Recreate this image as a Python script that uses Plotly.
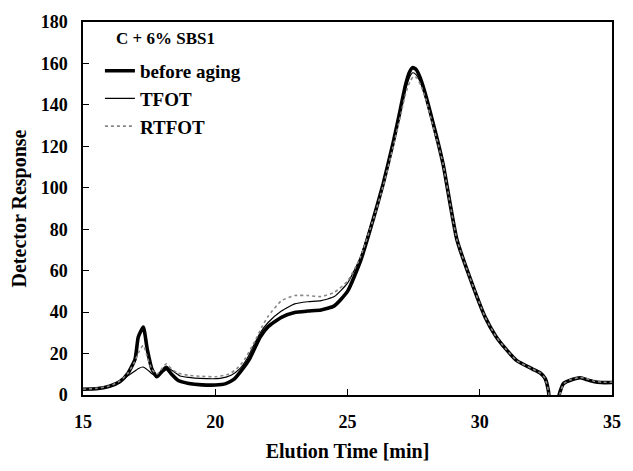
import plotly.graph_objects as go

# Elution time [min] and detector response for each sample
t_before = [15.0, 15.5, 16.0, 16.4, 16.7, 16.97, 17.09, 17.28, 17.43, 17.6, 17.79, 18.0, 18.15, 18.35,
            18.6, 19.0, 19.5, 20.0, 20.4, 20.7, 21.0, 21.3, 21.7, 22.0, 22.5, 23.0, 23.5, 24.0,
            24.5, 25.0, 25.5, 26.0, 26.35, 26.73, 27.0, 27.2, 27.35, 27.47, 27.6, 27.75, 27.95, 28.2,
            28.43, 28.62, 29.13, 29.63, 30.2, 30.6, 31.0, 31.4, 32.0, 32.3, 32.47, 32.6, 32.75, 32.9,
            33.0, 33.16, 33.4, 33.8, 34.0, 34.3, 34.6, 35.0]
v_before = [2.8, 3.0, 4.2, 6.5, 10.5, 17.4, 28.0, 32.8, 22.0, 12.7, 8.8, 11.5, 13.0, 10.0,
            7.0, 5.6, 4.9, 4.8, 5.5, 7.5, 12.0, 17.5, 28.0, 33.0, 37.5, 39.8, 40.5, 41.0,
            43.0, 50.0, 65.0, 86.0, 102.0, 122.0, 138.0, 150.0, 156.0, 158.0, 157.0, 153.0, 145.0, 133.0,
            121.5, 111.0, 75.3, 56.5, 37.7, 28.5, 22.0, 16.6, 12.5, 10.5, 8.0, 1.7, -20.0, -20.0,
            0.0, 5.5, 7.0, 8.3, 7.6, 6.5, 6.0, 6.0]

t_tfot = [15.0, 15.5, 16.0, 16.4, 16.65, 16.9, 17.1, 17.27, 17.45, 17.6, 17.79, 18.0, 18.15, 18.35,
          18.67, 19.0, 19.42, 20.18, 20.6, 20.93, 21.2, 21.44, 21.7, 22.0, 22.5, 23.0, 23.5, 24.0,
          24.5, 25.0, 25.47, 25.98, 26.35, 26.73, 27.0, 27.2, 27.35, 27.47, 27.6, 27.75, 27.95, 28.2,
          28.43, 28.62, 29.13, 29.63, 30.2, 30.6, 31.0, 31.4, 32.0, 32.3, 32.47, 32.6, 32.75, 32.9,
          33.02, 33.18, 33.4, 33.8, 34.0, 34.3, 34.6, 35.0]
v_tfot = [2.8, 3.0, 3.9, 6.0, 8.8, 11.0, 12.8, 13.5, 12.0, 10.3, 8.8, 12.5, 14.0, 12.0,
          9.2, 8.5, 8.0, 8.0, 9.5, 12.7, 17.5, 23.6, 30.0, 35.0, 40.5, 44.0, 45.0, 45.5,
          47.5, 54.0, 66.0, 86.0, 102.0, 121.0, 136.0, 147.5, 153.5, 155.5, 154.5, 151.0, 143.5, 132.0,
          121.0, 111.0, 75.3, 56.5, 37.7, 28.5, 22.0, 16.6, 12.5, 10.5, 8.0, 1.7, -20.0, -20.0,
          0.0, 5.0, 6.8, 8.0, 7.8, 6.6, 6.0, 6.0]

t_rtfot = [15.0, 15.5, 16.0, 16.4, 16.7, 16.95, 17.1, 17.28, 17.45, 17.6, 17.79, 18.0, 18.15, 18.35,
           18.6, 19.0, 19.5, 20.0, 20.5, 20.8, 21.1, 21.5, 21.75, 22.0, 22.5, 23.0, 23.5, 24.0,
           24.5, 25.0, 25.47, 25.98, 26.35, 26.73, 27.0, 27.2, 27.37, 27.5, 27.62, 27.77, 27.97, 28.2,
           28.43, 28.62, 29.13, 29.63, 30.2, 30.6, 31.0, 31.4, 32.0, 32.3, 32.47, 32.6, 32.75, 32.9,
           33.02, 33.18, 33.4, 33.8, 34.0, 34.3, 34.6, 35.0]
v_rtfot = [2.8, 3.2, 4.3, 6.8, 10.5, 16.0, 20.5, 24.0, 17.5, 12.5, 10.0, 13.0, 15.0, 12.5,
           10.5, 9.5, 9.0, 8.8, 10.0, 12.5, 17.0, 26.0, 32.5, 38.0, 45.5, 48.0, 48.0, 47.5,
           49.5, 55.0, 66.0, 85.0, 101.0, 120.0, 134.5, 145.5, 151.5, 153.7, 153.0, 149.5, 142.5, 131.5,
           121.0, 111.0, 75.3, 56.5, 37.7, 28.5, 22.0, 16.6, 12.5, 10.5, 8.0, 1.7, -20.0, -20.0,
           0.0, 5.5, 7.2, 8.5, 8.0, 6.8, 6.2, 6.2]

x_ticks = [15, 20, 25, 30, 35]
y_ticks = [0, 20, 40, 60, 80, 100, 120, 140, 160, 180]

FONT = "Liberation Serif"
BOLD = dict(family=FONT, color="black", weight="bold")

fig = go.Figure()
fig.add_trace(go.Scatter(x=t_before, y=v_before, name="before aging", mode="lines",
                         line=dict(color="black", width=3.6, shape="spline", smoothing=0.5)))
fig.add_trace(go.Scatter(x=t_tfot, y=v_tfot, name="TFOT", mode="lines",
                         line=dict(color="black", width=1.2, shape="spline", smoothing=0.5)))
fig.add_trace(go.Scatter(x=t_rtfot, y=v_rtfot, name="RTFOT", mode="lines",
                         line=dict(color="#888888", width=1.6, dash="dot", shape="spline", smoothing=0.5)))

axis_common = dict(showgrid=False, zeroline=False, showline=True, linecolor="black", linewidth=1.5,
                   mirror=True, ticks="inside", ticklen=6, tickcolor="black", tickwidth=1,
                   tickfont=dict(size=18, **BOLD))

fig.update_layout(
    width=633, height=471,
    margin=dict(l=83, r=21, t=13, b=74),
    paper_bgcolor="white", plot_bgcolor="white",
    font=dict(family=FONT, color="black"),
    showlegend=True,
    legend=dict(x=0.032, y=0.92, xanchor="left", yanchor="top",
                bgcolor="rgba(0,0,0,0)", borderwidth=0,
                font=dict(size=19, **BOLD),
                itemwidth=30, tracegroupgap=0),
    annotations=[dict(text="C + 6% SBS1", xref="paper", yref="paper", x=0.058, y=0.925,
                      xanchor="left", yanchor="bottom", showarrow=False,
                      font=dict(size=17, **BOLD))],
    xaxis=dict(range=[15, 35], tickvals=x_ticks, ticklabelstandoff=10,
               title=dict(text="Elution Time [min]", font=dict(size=20, **BOLD), standoff=13),
               **axis_common),
    yaxis=dict(range=[0, 180], tickvals=y_ticks, ticklabelstandoff=10,
               title=dict(text="Detector Response", font=dict(size=20, **BOLD), standoff=9),
               **axis_common),
)

fig.write_html("out.html")
